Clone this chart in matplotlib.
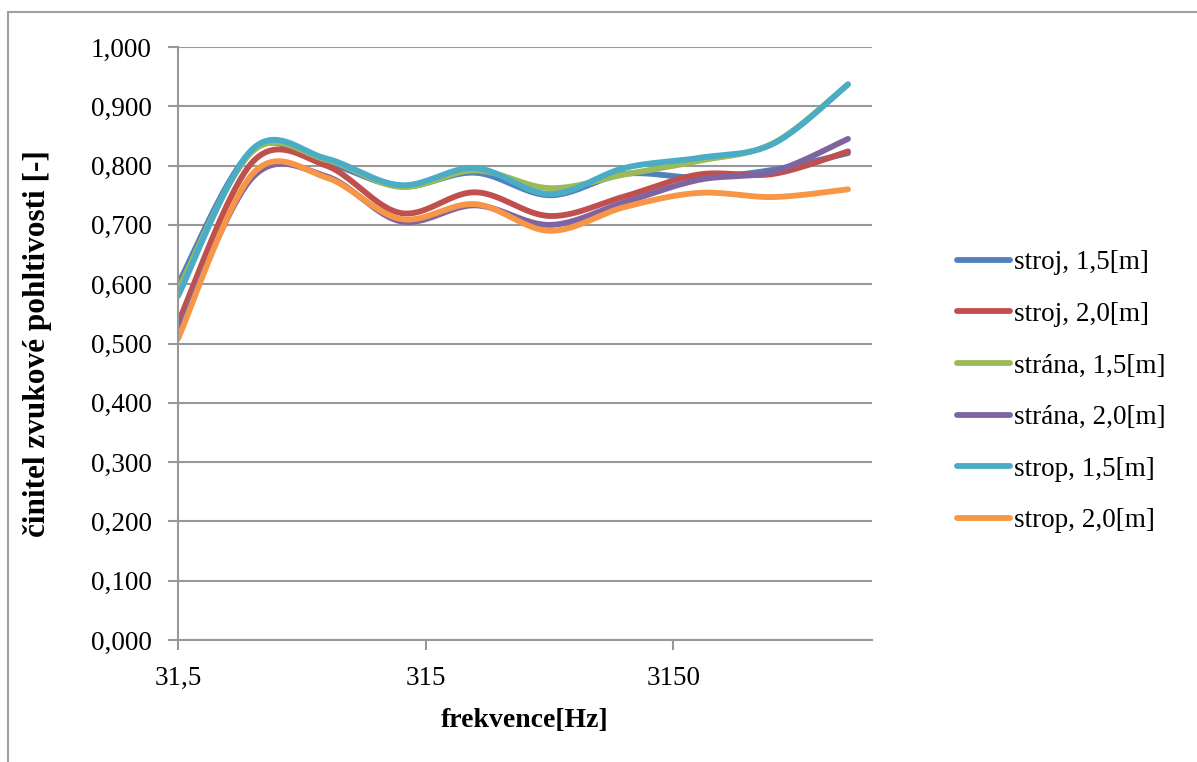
import numpy as np
import matplotlib
matplotlib.use("Agg")
import matplotlib.pyplot as plt
from matplotlib.patches import Rectangle
from matplotlib.ticker import FixedLocator, FuncFormatter

plt.rcParams['font.family'] = ['Liberation Serif', 'DejaVu Serif']

# oktávová pásma [Hz]
frekvence = [31.5, 63, 125, 250, 500, 1000, 2000, 4000, 8000, 16000]

stroj_15 = [0.600, 0.826, 0.805, 0.765, 0.788, 0.750, 0.786, 0.780, 0.793, 0.821]
stroj_20 = [0.535, 0.806, 0.800, 0.720, 0.755, 0.715, 0.748, 0.785, 0.786, 0.824]
strana_15 = [0.590, 0.824, 0.810, 0.764, 0.792, 0.762, 0.785, 0.808, 0.838, 0.937]
strana_20 = [0.520, 0.780, 0.782, 0.706, 0.733, 0.700, 0.738, 0.776, 0.790, 0.845]
strop_15 = [0.580, 0.828, 0.812, 0.767, 0.796, 0.752, 0.796, 0.813, 0.837, 0.937]
strop_20 = [0.508, 0.786, 0.780, 0.710, 0.735, 0.690, 0.730, 0.754, 0.747, 0.760]

nazvy = ['stroj, 1,5[m]', 'stroj, 2,0[m]', 'strána, 1,5[m]',
         'strána, 2,0[m]', 'strop, 1,5[m]', 'strop, 2,0[m]']
barvy = ['#4F81BD', '#C0504D', '#9BBB59', '#8064A2', '#4BACC6', '#F79646']
rady = [stroj_15, stroj_20, strana_15, strana_20, strop_15, strop_20]


def vyhlazeni(x, y, n=40):
    # vyhlazená čára (Catmull-Rom) v log. souřadnicích osy x
    lx = np.log10(np.asarray(x, float))
    y = np.asarray(y, float)
    px = np.concatenate([[lx[0]], lx, [lx[-1]]])
    py = np.concatenate([[y[0]], y, [y[-1]]])
    xs, ys = [], []
    for i in range(1, len(lx)):
        t = np.linspace(0, 1, n)
        p0x, p1x, p2x, p3x = px[i - 1], px[i], px[i + 1], px[i + 2]
        p0y, p1y, p2y, p3y = py[i - 1], py[i], py[i + 1], py[i + 2]
        m1x, m2x = (p2x - p0x) / 2, (p3x - p1x) / 2
        m1y, m2y = (p2y - p0y) / 2, (p3y - p1y) / 2
        h00 = 2 * t**3 - 3 * t**2 + 1
        h10 = t**3 - 2 * t**2 + t
        h01 = -2 * t**3 + 3 * t**2
        h11 = t**3 - t**2
        xs.append(h00 * p1x + h10 * m1x + h01 * p2x + h11 * m2x)
        ys.append(h00 * p1y + h10 * m1y + h01 * p2y + h11 * m2y)
    return 10 ** np.concatenate(xs), np.concatenate(ys)


fig = plt.figure(figsize=(11.97, 7.62), dpi=100)
ax = fig.add_axes([178 / 1197, 1 - 640 / 762, (872 - 178) / 1197, (640 - 47) / 762])

for y, nazev, barva in zip(rady, nazvy, barvy):
    xs, ys = vyhlazeni(frekvence, y)
    ax.plot(xs, ys, color=barva, lw=4.2, label=nazev, solid_capstyle='round')

ax.set_xscale('log')
ax.set_xlim(31.5, 20000)
ax.set_ylim(0, 1.0)
ax.xaxis.set_major_locator(FixedLocator([31.5, 315, 3150]))
ax.xaxis.set_minor_locator(FixedLocator([]))
ax.xaxis.set_major_formatter(FuncFormatter(lambda v, p: f"{v:g}".replace('.', ',')))
ax.set_yticks(np.arange(0, 1.01, 0.1))
ax.yaxis.set_major_formatter(FuncFormatter(lambda v, p: f"{v:.3f}".replace('.', ',')))

seda = '#989898'
ax.grid(axis='y', color=seda, lw=1.5)
ax.set_axisbelow(True)
for s in ['top', 'right']:
    ax.spines[s].set_visible(False)
for s in ['left', 'bottom']:
    ax.spines[s].set_color(seda)
    ax.spines[s].set_linewidth(1.5)
ax.tick_params(axis='both', colors=seda, width=1.5, length=7, labelsize=19.5,
               labelcolor='black')
ax.tick_params(axis='y', pad=12)
ax.tick_params(axis='x', pad=12)

ax.set_xlabel('frekvence[Hz]', fontsize=20, fontweight='bold', labelpad=12)
ax.set_ylabel('činitel zvukové pohltivosti [-]', fontsize=22.5, fontweight='bold',
              labelpad=28)

leg = fig.legend(loc='upper left', bbox_to_anchor=(933 / 1197, 1 - 226 / 762),
                 frameon=False, fontsize=19.5, handlelength=1.95, handletextpad=0.15,
                 labelspacing=0.98)
for h in leg.get_lines():
    h.set_linewidth(4.2)

fig.patches.append(Rectangle((8 / 1197, -0.1), 1.2, 1 - 12 / 762 + 0.1,
                             transform=fig.transFigure, fill=False,
                             edgecolor='#A0A0A0', lw=1.5))

fig.savefig('out.png', dpi=100)
